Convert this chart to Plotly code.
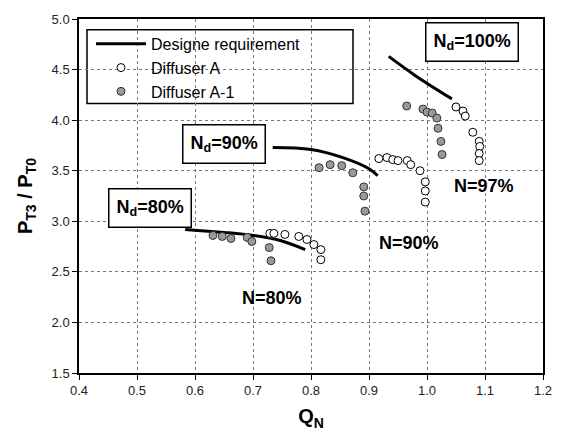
import plotly.graph_objects as go

# Design requirement lines (Q_N, P_T3/P_T0)
req80_q = [0.583, 0.65, 0.70, 0.747, 0.79]
req80_p = [2.92, 2.89, 2.86, 2.81, 2.72]
req90_q = [0.734, 0.80, 0.855, 0.90, 0.915]
req90_p = [3.73, 3.71, 3.63, 3.52, 3.45]
req100_q = [0.934, 0.98, 1.043]
req100_p = [4.63, 4.44, 4.21]

# Diffuser A (open circles)
a_q = [0.729, 0.736, 0.755, 0.779, 0.793, 0.805, 0.817, 0.817,
       0.917, 0.931, 0.941, 0.950, 0.966, 0.972, 0.988, 0.997, 0.997, 0.997,
       1.050, 1.062, 1.066, 1.079, 1.090, 1.091, 1.090, 1.090]
a_p = [2.88, 2.88, 2.87, 2.85, 2.82, 2.77, 2.72, 2.62,
       3.62, 3.63, 3.61, 3.60, 3.60, 3.56, 3.50, 3.39, 3.30, 3.19,
       4.13, 4.09, 4.04, 3.88, 3.79, 3.74, 3.67, 3.60]

# Diffuser A-1 (grey circles)
a1_q = [0.631, 0.647, 0.662, 0.690, 0.698, 0.728, 0.731,
        0.814, 0.833, 0.853, 0.872, 0.891, 0.891, 0.893,
        0.965, 0.993, 1.000, 1.009, 1.017, 1.019, 1.024, 1.026]
a1_p = [2.86, 2.85, 2.83, 2.84, 2.80, 2.74, 2.61,
        3.53, 3.56, 3.55, 3.48, 3.34, 3.25, 3.10,
        4.14, 4.11, 4.08, 4.07, 4.02, 3.92, 3.79, 3.66]

x_ticks = [0.4, 0.5, 0.6, 0.7, 0.8, 0.9, 1.0, 1.1, 1.2]
y_ticks = [1.5, 2.0, 2.5, 3.0, 3.5, 4.0, 4.5, 5.0]

# Text labels: (text, x, y, boxed)
labels = [
    ("<b>N<sub>d</sub>=80%</b>", 0.523, 3.133, True),
    ("<b>N<sub>d</sub>=90%</b>", 0.650, 3.760, True),
    ("<b>N<sub>d</sub>=100%</b>", 1.078, 4.776, True),
    ("<b>N=80%</b>", 0.733, 2.24, False),
    ("<b>N=90%</b>", 0.969, 2.79, False),
    ("<b>N=97%</b>", 1.098, 3.35, False),
]

FONT = "Arial, Liberation Sans, sans-serif"
fig = go.Figure()

for i, (q, p) in enumerate([(req80_q, req80_p), (req90_q, req90_p), (req100_q, req100_p)]):
    fig.add_trace(go.Scatter(x=q, y=p, mode="lines", line=dict(color="black", width=3, shape="spline"),
                             name="Designe requirement", legendgroup="req", showlegend=(i == 0)))

fig.add_trace(go.Scatter(x=a_q, y=a_p, mode="markers", name="Diffuser A",
                         marker=dict(symbol="circle", size=8, color="white",
                                     line=dict(color="black", width=1))))
fig.add_trace(go.Scatter(x=a1_q, y=a1_p, mode="markers", name="Diffuser A-1",
                         marker=dict(symbol="circle", size=8, color="#9a9a9a",
                                     line=dict(color="#333333", width=1))))

for text, x, y, boxed in labels:
    if boxed:
        fig.add_annotation(x=x, y=y, text=text, showarrow=False,
                           font=dict(family=FONT, size=18, color="black"),
                           bgcolor="white", bordercolor="black", borderwidth=1.5, borderpad=7)
    else:
        fig.add_annotation(x=x, y=y, text=text, showarrow=False,
                           font=dict(family=FONT, size=18, color="black"))

# legend frame (plot area is 464 x 360 px)
fig.add_shape(type="rect", xref="paper", yref="paper", x0=8/464, x1=274/464,
              y0=1-(99-13)/360, y1=1-(24-13)/360, layer="between",
              fillcolor="white", line=dict(color="black", width=1.5))

axis_common = dict(showline=True, linecolor="black", linewidth=1.5, mirror=True,
                   ticks="outside", ticklen=5, tickcolor="black",
                   showgrid=True, gridcolor="#777777", griddash="dot", gridwidth=1,
                   zeroline=False, ticklabeloverflow="allow",
                   tickfont=dict(family=FONT, size=13, color="#222222"))

fig.update_xaxes(range=[0.4, 1.2], tickvals=x_ticks, ticktext=[f"{v:.1f}" for v in x_ticks],
                 title=dict(text="<b>Q<sub>N</sub></b>", font=dict(family=FONT, size=20, color="black"),
                            standoff=12), **axis_common)
fig.update_yaxes(range=[1.5, 5.0], tickvals=y_ticks, ticktext=[f"{v:.1f}" for v in y_ticks],
                 title=dict(text="<b>P<sub>T3</sub> / P<sub>T0</sub></b>",
                            font=dict(family=FONT, size=20, color="black"), standoff=14), **axis_common)

fig.update_layout(
    width=567, height=439,
    margin=dict(l=79, r=24, t=13, b=66),
    plot_bgcolor="white", paper_bgcolor="white",
    font=dict(family=FONT, color="black"),
    legend=dict(x=12/464, y=1-(21-13)/360, xanchor="left", yanchor="top",
                bgcolor="rgba(0,0,0,0)", borderwidth=0, itemwidth=50,
                font=dict(family=FONT, size=16, color="black"), tracegroupgap=0),
)

# remove the browser's default 8px body margin so the figure fills the window exactly
fig.write_html("out.html", config={"displayModeBar": False},
               post_script="document.body.style.margin='0';document.body.style.overflow='hidden';")
